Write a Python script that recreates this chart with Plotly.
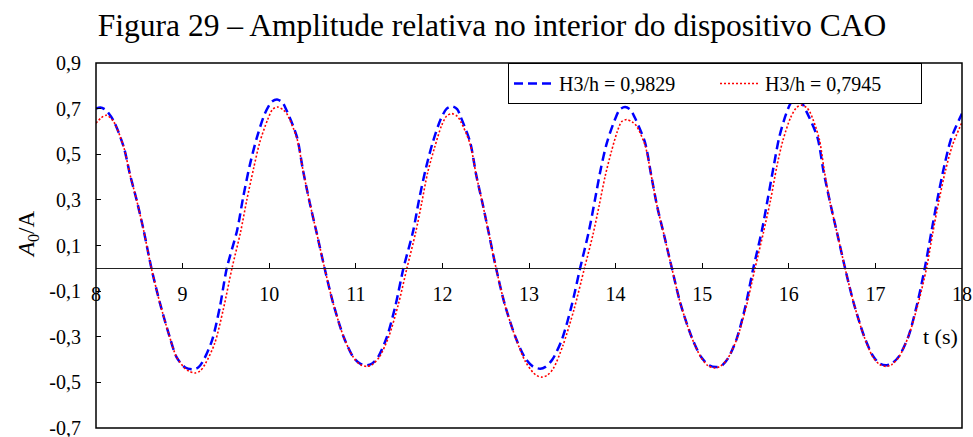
import plotly.graph_objects as go

# Time axis (s) and relative amplitude A0/A for the two wave heights
t_blue = [8.00, 8.05, 8.11, 8.20, 8.32, 8.39, 8.47, 8.55, 8.64,
          8.74, 8.84, 8.93, 9.03, 9.12, 9.18, 9.24, 9.34, 9.43, 9.51,
          9.63, 9.70, 9.78, 9.86, 9.95, 10.03, 10.09, 10.15,
          10.20, 10.32, 10.39, 10.47, 10.55, 10.64,
          10.74, 10.86, 10.97, 11.05, 11.13, 11.19, 11.26, 11.36, 11.46, 11.55,
          11.66, 11.73, 11.81, 11.89, 11.98, 12.05, 12.11, 12.17,
          12.21, 12.32, 12.39, 12.47, 12.54, 12.62,
          12.72, 12.85, 12.96, 13.05, 13.13, 13.19, 13.27, 13.38, 13.49, 13.59,
          13.69, 13.76, 13.83, 13.90, 13.99, 14.05, 14.11, 14.17,
          14.22, 14.34, 14.41, 14.48, 14.56, 14.65,
          14.75, 14.88, 14.99, 15.08, 15.17, 15.23, 15.30, 15.40, 15.50, 15.59,
          15.69, 15.76, 15.83, 15.89, 15.97, 16.03, 16.09, 16.15,
          16.20, 16.33, 16.40, 16.48, 16.56, 16.65,
          16.75, 16.87, 16.97, 17.05, 17.13, 17.19, 17.27, 17.38, 17.48, 17.57,
          17.65, 17.72, 17.80, 17.88, 18.00]
a_blue = [0.700, 0.705, 0.695, 0.649, 0.532, 0.415, 0.298, 0.167, 0.000,
          -0.155, -0.287, -0.389, -0.435, -0.443, -0.435, -0.404, -0.316, -0.170, 0.000,
          0.167, 0.313, 0.459, 0.576, 0.678, 0.730, 0.740, 0.728,
          0.693, 0.576, 0.430, 0.284, 0.152, 0.000,
          -0.155, -0.301, -0.389, -0.418, -0.425, -0.417, -0.387, -0.300, -0.160, 0.000,
          0.160, 0.300, 0.440, 0.554, 0.653, 0.700, 0.710, 0.698,
          0.665, 0.554, 0.410, 0.273, 0.146, 0.000,
          -0.158, -0.308, -0.396, -0.432, -0.440, -0.432, -0.400, -0.312, -0.167, 0.000,
          0.160, 0.297, 0.438, 0.551, 0.650, 0.697, 0.707, 0.695,
          0.662, 0.551, 0.410, 0.271, 0.145, 0.000,
          -0.156, -0.303, -0.390, -0.425, -0.433, -0.425, -0.394, -0.307, -0.165, 0.000,
          0.167, 0.310, 0.457, 0.575, 0.678, 0.727, 0.737, 0.725,
          0.690, 0.575, 0.427, 0.283, 0.151, 0.000,
          -0.153, -0.298, -0.383, -0.418, -0.425, -0.417, -0.387, -0.300, -0.160, 0.000,
          0.167, 0.310, 0.457, 0.575, 0.678]

t_red = [8.00, 8.06, 8.12, 8.20, 8.32, 8.39, 8.47, 8.55, 8.64,
         8.74, 8.84, 8.93, 9.03, 9.08, 9.14, 9.20, 9.26, 9.37, 9.47, 9.57,
         9.67, 9.74, 9.82, 9.89, 9.98, 10.04, 10.10, 10.16,
         10.20, 10.32, 10.39, 10.47, 10.55, 10.64,
         10.74, 10.86, 10.97, 11.05, 11.13, 11.19, 11.27, 11.38, 11.49, 11.59,
         11.69, 11.76, 11.83, 11.91, 11.99, 12.05, 12.11, 12.17,
         12.21, 12.32, 12.39, 12.47, 12.54, 12.62,
         12.72, 12.85, 12.96, 13.05, 13.09, 13.15, 13.21, 13.28, 13.39, 13.52, 13.64,
         13.74, 13.81, 13.88, 13.95, 14.02, 14.07, 14.13, 14.19,
         14.24, 14.34, 14.41, 14.48, 14.56, 14.65,
         14.75, 14.88, 14.99, 15.07, 15.15, 15.21, 15.29, 15.40, 15.51, 15.61,
         15.71, 15.79, 15.86, 15.93, 16.02, 16.09, 16.15, 16.21,
         16.25, 16.35, 16.41, 16.48, 16.56, 16.65,
         16.75, 16.87, 16.97, 17.05, 17.13, 17.19, 17.27, 17.38, 17.49, 17.59,
         17.66, 17.73, 17.81, 17.89, 18.00]
a_red = [0.636, 0.660, 0.671, 0.645, 0.532, 0.415, 0.298, 0.167, 0.000,
         -0.155, -0.287, -0.389, -0.440, -0.452, -0.459, -0.451, -0.420, -0.330, -0.180, 0.000,
         0.160, 0.297, 0.438, 0.551, 0.650, 0.697, 0.707, 0.695,
         0.680, 0.570, 0.430, 0.284, 0.152, 0.000,
         -0.155, -0.301, -0.389, -0.422, -0.430, -0.422, -0.390, -0.300, -0.160, 0.000,
         0.155, 0.285, 0.420, 0.530, 0.625, 0.668, 0.678, 0.667,
         0.645, 0.545, 0.410, 0.273, 0.146, 0.000,
         -0.158, -0.310, -0.410, -0.458, -0.470, -0.477, -0.469, -0.440, -0.340, -0.180, 0.000,
         0.150, 0.275, 0.405, 0.510, 0.600, 0.643, 0.652, 0.642,
         0.625, 0.540, 0.410, 0.271, 0.145, 0.000,
         -0.156, -0.305, -0.393, -0.428, -0.437, -0.429, -0.398, -0.310, -0.166, 0.000,
         0.162, 0.300, 0.443, 0.558, 0.660, 0.705, 0.715, 0.703,
         0.680, 0.570, 0.427, 0.283, 0.151, 0.000,
         -0.153, -0.300, -0.388, -0.422, -0.430, -0.422, -0.390, -0.300, -0.160, 0.000,
         0.150, 0.290, 0.430, 0.540, 0.640]

x_ticks = [8, 9, 10, 11, 12, 13, 14, 15, 16, 17, 18]
y_ticks = [0.9, 0.7, 0.5, 0.3, 0.1, -0.1, -0.3, -0.5, -0.7]
y_tick_text = ["0,9", "0,7", "0,5", "0,3", "0,1", "-0,1", "-0,3", "-0,5", "-0,7"]

FONT = "Liberation Serif, Times New Roman, serif"

fig = go.Figure()
fig.add_trace(go.Scatter(
    x=t_blue, y=a_blue, mode="lines", name="H3/h = 0,9829",
    line=dict(color="#0000ff", width=2.5, dash="9px,5px", shape="spline", smoothing=0.8),
))
fig.add_trace(go.Scatter(
    x=t_red, y=a_red, mode="lines", name="H3/h = 0,7945",
    line=dict(color="#ff0000", width=1.6, dash="2px,2px", shape="spline", smoothing=0.8),
))

y_min, y_max = -0.7, 0.9
fig.update_layout(
    width=973, height=437,
    margin=dict(l=96, r=11, t=63, b=9, autoexpand=False),
    paper_bgcolor="white", plot_bgcolor="white",
    font=dict(family=FONT, color="black", size=20),
    title=dict(
        text="Figura 29 – Amplitude relativa no interior do dispositivo CAO",
        font=dict(family=FONT, size=31.5, color="black"),
        x=492 / 973, xref="container", xanchor="center",
        y=1 - 25 / 437, yref="container", yanchor="middle",
    ),
    xaxis=dict(
        range=[8, 18], tickvals=x_ticks, ticks="inside", ticklen=5,
        tickcolor="black", tickwidth=1,
        showline=True, linecolor="#222", linewidth=1.2,
        anchor="free", position=(0 - y_min) / (y_max - y_min),
        showgrid=False, zeroline=False,
        ticklabelstandoff=8, ticklabeloverflow="allow",
        tickfont=dict(family=FONT, size=20),
    ),
    yaxis=dict(
        range=[y_min, y_max], tickvals=y_ticks, ticktext=y_tick_text,
        ticks="inside", ticklen=5, tickcolor="black", tickwidth=1,
        showline=False, showgrid=False, zeroline=False,
        ticklabelstandoff=14, ticklabeloverflow="allow",
        tickfont=dict(family=FONT, size=20),
    ),
    legend=dict(
        orientation="h", x=(508 - 96) / 866, y=1, xanchor="left", yanchor="top",
        bgcolor="white", bordercolor="black", borderwidth=1,
        font=dict(family=FONT, size=20), itemwidth=40, entrywidth=151,
    ),
    shapes=[dict(type="rect", xref="paper", yref="paper", x0=0, x1=1, y0=0, y1=1,
                 line=dict(color="black", width=1.5), layer="above")],
    annotations=[
        dict(text="t (s)", xref="x", yref="y", x=18, y=-0.30, xanchor="right",
             yanchor="middle", xshift=-2, showarrow=False,
             font=dict(family=FONT, size=22)),
        dict(text="<i>A</i><sub>0</sub>/A", xref="paper", yref="y", x=0, y=0.15,
             xshift=-68, xanchor="center", yanchor="middle", textangle=-90,
             showarrow=False, font=dict(family=FONT, size=23)),
    ],
)

fig.write_html("out.html")
